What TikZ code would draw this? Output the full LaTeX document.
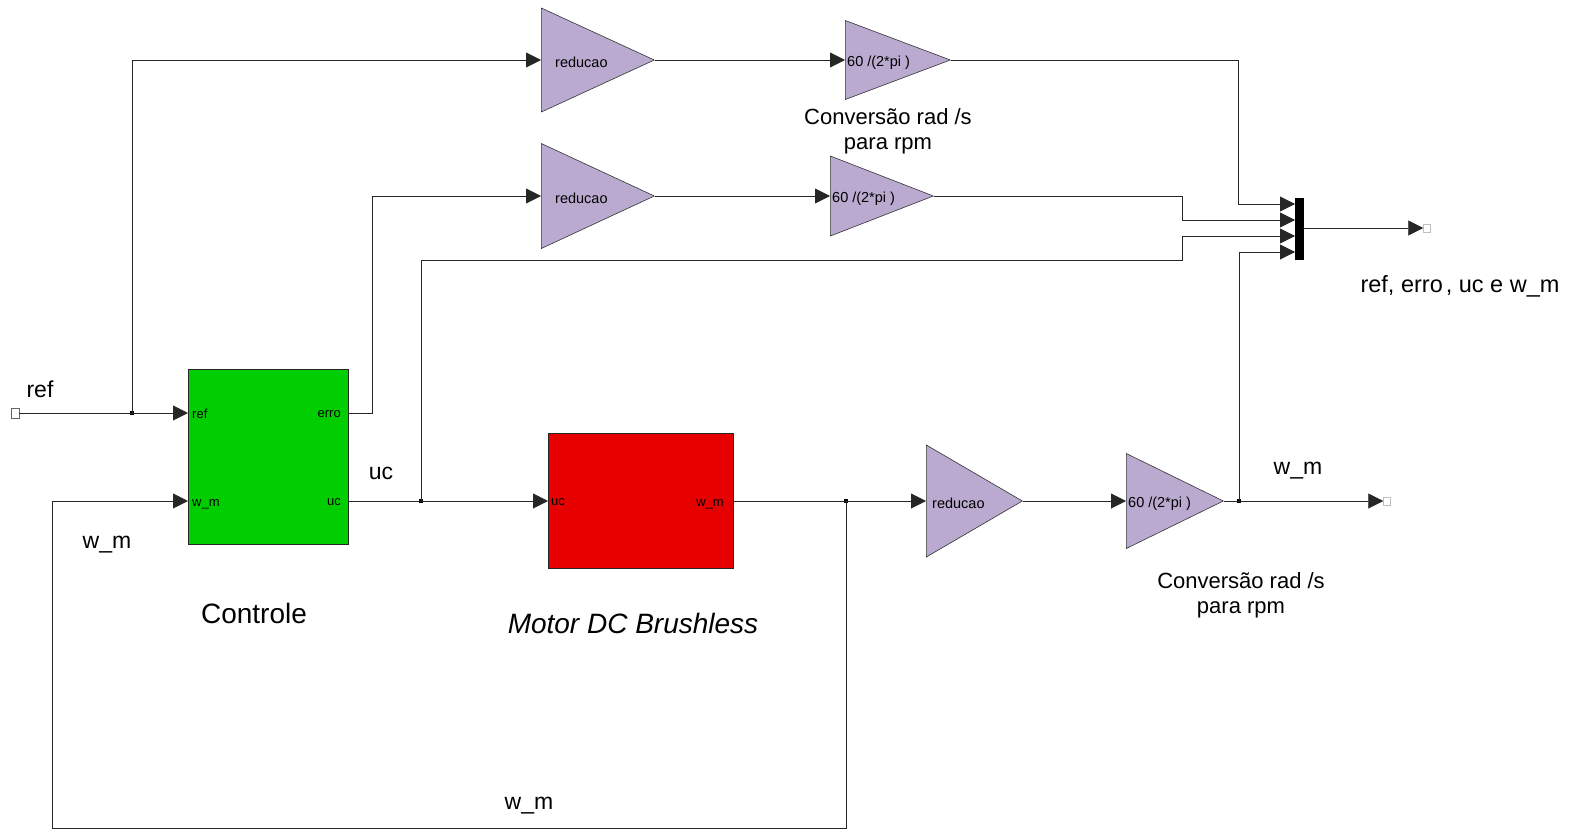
\documentclass[tikz,border=0pt]{standalone}
\usepackage{fontspec}
\setmainfont{Liberation Sans}
\usetikzlibrary{arrows.meta,shapes.geometric}
\definecolor{lav}{RGB}{186,170,208}
\definecolor{blkgreen}{RGB}{0,206,0}
\definecolor{blkred}{RGB}{230,0,0}
\begin{document}
\begin{tikzpicture}[x=1pt,y=-1pt,
  wire/.style={draw=black!85,line width=0.9pt},
  arr/.style={wire,-{Triangle[length=15pt,width=15pt]}},
  gainshape/.style={isosceles triangle,isosceles triangle stretches,shape border rotate=0,
     draw=black!80,line width=0.6pt,fill=lav,inner sep=0pt,anchor=west},
  blk/.style={draw=black!85,line width=0.7pt,inner sep=0pt,anchor=north west},
  portlbl/.style={inner sep=0pt,font=\fontsize{13}{15}\selectfont},
  gainlbl/.style={inner sep=0pt,anchor=west,font=\fontsize{14.5}{17}\selectfont},
  biglbl/.style={inner sep=0pt,font=\fontsize{23}{27}\selectfont},
  convlbl/.style={inner sep=0pt,align=center,font=\fontsize{22}{25}\selectfont},
  dot/.style={fill=black,inner sep=0pt,minimum size=4pt,draw=none},
  port/.style={draw=black!60,fill=white,line width=0.6pt,inner sep=0pt,minimum width=8pt,minimum height=10pt},
  outport/.style={draw=black!25,fill=white,line width=0.5pt,inner sep=0pt,minimum width=7pt,minimum height=8pt}]
\useasboundingbox (0,0) rectangle (1577,831);

% blocks
\node[blk,fill=blkgreen,minimum width=160pt,minimum height=175pt] (ctrl) at (188,369) {};
\node[blk,fill=blkred,minimum width=185pt,minimum height=135pt] (motor) at (548,433) {};

% gains (for this shape: minimum height = length along the apex direction, minimum width = base)
\node[gainshape,minimum height=113pt,minimum width=104pt] (g1) at (541,60) {};
\node[gainshape,minimum height=105pt,minimum width=79pt] (g2) at (845,60) {};
\node[gainshape,minimum height=113pt,minimum width=105pt] (g3) at (541,196) {};
\node[gainshape,minimum height=103pt,minimum width=80pt] (g4) at (830,196) {};
\node[gainshape,minimum height=96pt,minimum width=112pt] (g5) at (926,501) {};
\node[gainshape,minimum height=97pt,minimum width=95pt] (g6) at (1126,501) {};

\node[gainlbl] (g1l) at (555,62) {reducao};
\node[gainlbl] (g3l) at (555,198) {reducao};
\node[gainlbl] (g5l) at (932,503) {reducao};
\node[gainlbl] (g2l) at (847,63) {60\hspace{4pt}/(2*pi\hspace{4pt})};
\node[gainlbl] (g4l) at (832,199) {60\hspace{4pt}/(2*pi\hspace{4pt})};
\node[gainlbl] (g6l) at (1128,504) {60\hspace{4pt}/(2*pi\hspace{4pt})};

% mux
\node[fill=black,draw=black,inner sep=0pt,minimum width=8pt,minimum height=61pt,anchor=north west] (mux) at (1295,198) {};
\coordinate (m1) at (1295,204);
\coordinate (m2) at (1295,220);
\coordinate (m3) at (1295,236);
\coordinate (m4) at (1295,252);

% ports
\node[port] (inref) at (15,413) {};
\node[outport] (outmux) at (1427,228) {};
\node[outport] (outwm) at (1387,501) {};

% port labels
\node[portlbl,anchor=west] (pref) at (192,414) {ref};
\node[portlbl,anchor=west] (pwm) at (192,504) {w\_m};
\node[portlbl,anchor=east] (perro) at (341,414) {erro};
\node[portlbl,anchor=east] (puc) at (341,502) {uc};
\node[portlbl,anchor=west] (muc) at (551,502) {uc};
\node[portlbl,anchor=east] (mwm) at (724,504) {w\_m};

% branch points
\node[dot] (b1) at (132,413) {};
\node[dot] (b2) at (421,501) {};
\node[dot] (b3) at (846,501) {};
\node[dot] (b4) at (1239,501) {};

% wires
\draw[arr] (inref.east) -- (188,413);
\draw[arr] (b1.center) -- (132,60) -- (g1.west);
\draw[arr] (g1.east) -- (g2.west);
\draw[arr] (g2.east) -- (1238,60) -- (1238,204) -- (m1);
\draw[arr] (348,413) -- (372,413) -- (372,196) -- (g3.west);
\draw[arr] (g3.east) -- (g4.west);
\draw[arr] (g4.east) -- (1182,196) -- (1182,220) -- (m2);
\draw[arr] (348,501) -- (motor.west |- b2);
\draw[arr] (b2.center) -- (421,260) -- (1182,260) -- (1182,236) -- (m3);
\draw[arr] (733,501) -- (g5.west);
\draw[arr] (b3.center) -- (846,828) -- (52,828) -- (52,501) -- (188,501);
\draw[arr] (g5.east) -- (g6.west);
\draw[arr] (g6.east) -- (outwm.west);
\draw[arr] (b4.center) -- (1239,252) -- (m4);
\draw[arr] (mux.east |- outmux) -- (outmux.west);

% labels
\node[biglbl] (lref) at (40,389) {ref};
\node[biglbl] (luc) at (381,473) {uc};
\node[biglbl] (lwm1) at (107,545) {w\_m};
\node[biglbl] (lwm2) at (529,806) {w\_m};
\node[biglbl] (lwm3) at (1298,471) {w\_m};
\node[inner sep=0pt,font=\fontsize{23.5}{27}\selectfont] (lmux) at (1460,286) {ref, erro\hspace{3pt}, uc e w\_m};
\node[inner sep=0pt,font=\fontsize{28}{31}\selectfont] (lctrl) at (254,613) {Controle};
\node[inner sep=0pt,font=\fontsize{28}{31}\selectfont\itshape] (lmotor) at (633,623) {Motor DC Brushless};
\node[convlbl] (lconv1) at (888,131) {Conversão rad /s\\para rpm};
\node[convlbl] (lconv2) at (1241,595) {Conversão rad /s\\para rpm};
\end{tikzpicture}
\end{document}
